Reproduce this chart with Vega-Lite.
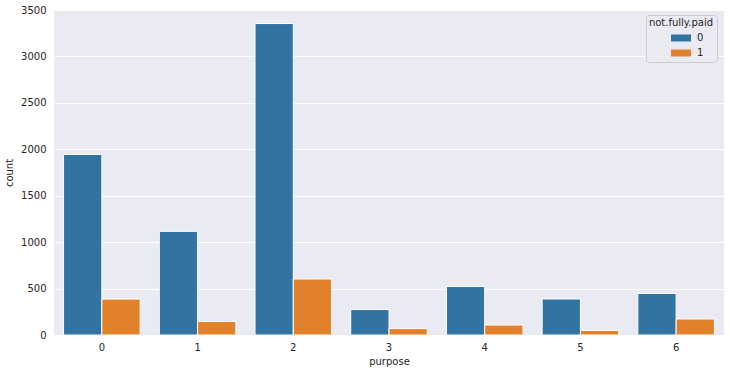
{
  "$schema": "https://vega.github.io/schema/vega-lite/v6.json",
  "width": 670,
  "height": 325,
  "autosize": {"type": "none"},
  "padding": {"left": 54, "top": 10, "right": 6, "bottom": 38},
  "background": "white",
  "data": {
    "values": [
      {"purpose": "0", "nfp": "0", "count": 1944},
      {"purpose": "0", "nfp": "1", "count": 387},
      {"purpose": "1", "nfp": "0", "count": 1116},
      {"purpose": "1", "nfp": "1", "count": 146},
      {"purpose": "2", "nfp": "0", "count": 3354},
      {"purpose": "2", "nfp": "1", "count": 603},
      {"purpose": "3", "nfp": "0", "count": 274},
      {"purpose": "3", "nfp": "1", "count": 69},
      {"purpose": "4", "nfp": "0", "count": 522},
      {"purpose": "4", "nfp": "1", "count": 107},
      {"purpose": "5", "nfp": "0", "count": 388},
      {"purpose": "5", "nfp": "1", "count": 49},
      {"purpose": "6", "nfp": "0", "count": 447},
      {"purpose": "6", "nfp": "1", "count": 172}
    ]
  },
  "config": {
    "view": {"fill": "#eaeaf2", "stroke": null},
    "font": "DejaVu Sans",
    "axis": {
      "labelFont": "DejaVu Sans",
      "titleFont": "DejaVu Sans",
      "labelFontSize": 10,
      "titleFontSize": 10,
      "titleFontWeight": "normal",
      "labelColor": "#262626",
      "titleColor": "#262626",
      "domain": false,
      "ticks": false
    },
    "legend": {
      "labelFont": "DejaVu Sans",
      "titleFont": "DejaVu Sans",
      "labelFontSize": 10,
      "titleFontSize": 10,
      "titleFontWeight": "normal",
      "labelColor": "#262626",
      "titleColor": "#262626"
    }
  },
  "mark": {"type": "bar", "stroke": "white", "strokeWidth": 1},
  "encoding": {
    "x": {
      "field": "purpose",
      "type": "nominal",
      "scale": {"paddingInner": 0.2, "paddingOuter": 0.1},
      "axis": {"labelAngle": 0, "labelPadding": 7, "grid": false, "title": "purpose", "titlePadding": 4}
    },
    "xOffset": {"field": "nfp", "type": "nominal", "scale": {"paddingInner": 0, "paddingOuter": 0}},
    "y": {
      "field": "count",
      "type": "quantitative",
      "scale": {"domain": [0, 3500], "nice": false},
      "axis": {"values": [0, 500, 1000, 1500, 2000, 2500, 3000, 3500], "format": "d", "grid": true, "gridColor": "white", "gridWidth": 1, "gridOpacity": 1, "labelPadding": 8, "title": "count", "titlePadding": 6}
    },
    "color": {
      "field": "nfp",
      "type": "nominal",
      "scale": {"domain": ["0", "1"], "range": ["#3274a1", "#e1812c"]},
      "legend": {
        "orient": "none",
        "legendX": 592,
        "legendY": 5,
        "title": "not.fully.paid",
        "titleAnchor": "middle",
        "titlePadding": 4,
        "fillColor": "rgba(234,234,242,0.8)",
        "strokeColor": "#cccccc",
        "cornerRadius": 3,
        "padding": 3,
        "symbolType": "M-1,-0.35H1V0.35H-1Z",
        "symbolSize": 400,
        "symbolStrokeWidth": 0,
        "symbolOpacity": 1,
        "symbolOffset": 12,
        "labelOffset": 6,
        "clipHeight": 12,
        "rowPadding": 3
      }
    }
  }
}
